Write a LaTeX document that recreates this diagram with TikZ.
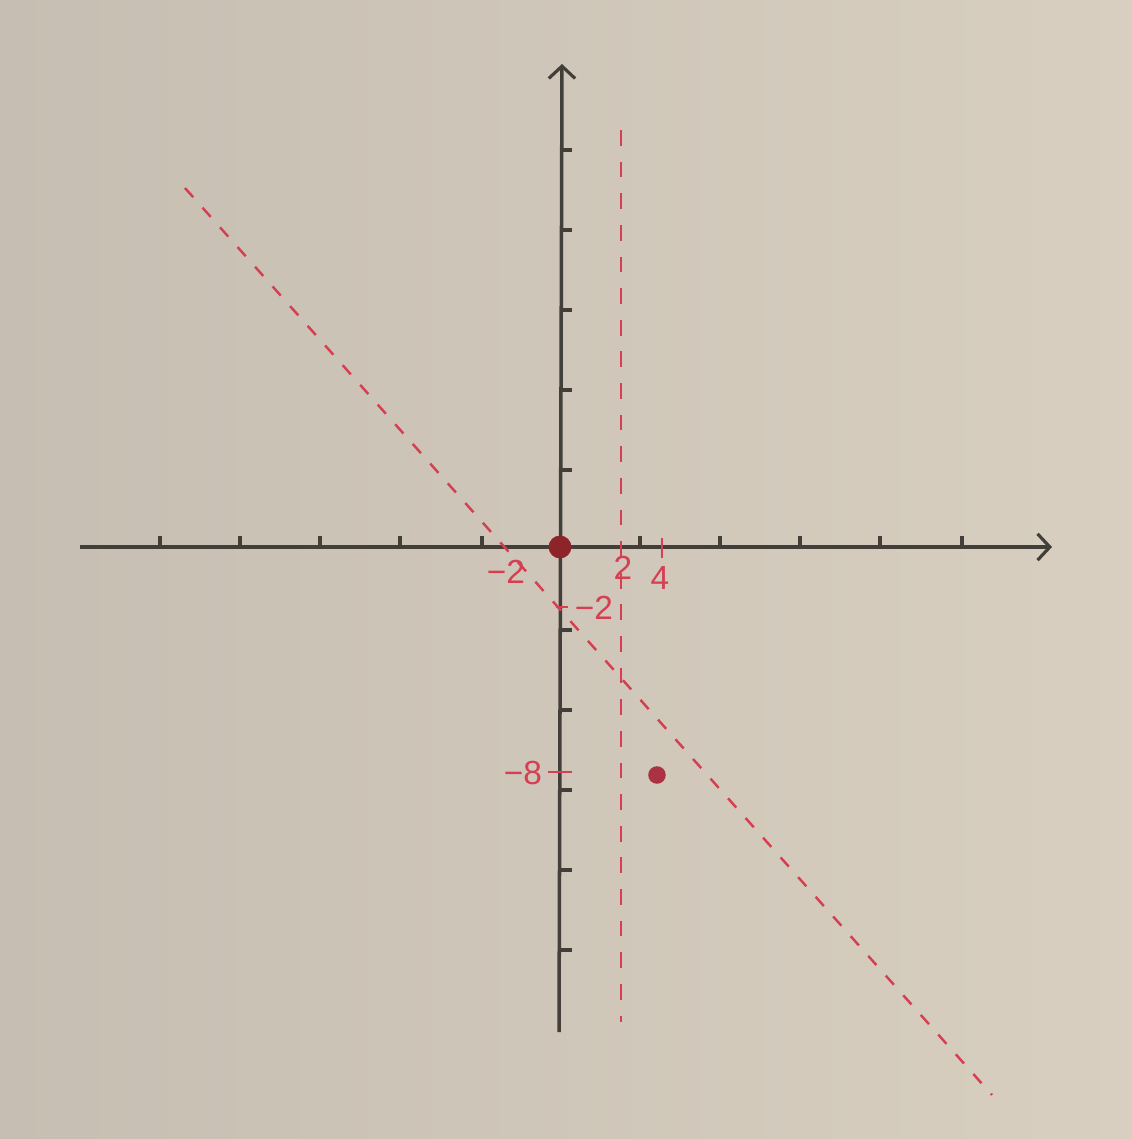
\documentclass[tikz,border=0pt]{standalone}
\usepackage{fontspec}
\setmainfont{Liberation Sans}
\usetikzlibrary{arrows.meta}
\definecolor{paper}{RGB}{216,207,192}
\definecolor{paperdark}{RGB}{198,190,178}
\definecolor{ink}{RGB}{66,62,58}
\definecolor{pen}{RGB}{214,62,82}
\definecolor{dotred}{RGB}{140,36,42}
\tikzset{
  axis/.style={ink, line width=2pt, -{Straight Barb[length=7pt,width=15pt,line width=1.8pt]}},
  tick/.style={ink, line width=1.8pt},
  redtick/.style={pen, line width=1.4pt},
  guide/.style={pen, line width=1.4pt, dash pattern=on 7pt off 8pt},
  lbl/.style={text=pen, font=\fontsize{19}{21}\selectfont, inner sep=1pt},
}
\begin{document}
\begin{tikzpicture}[x=0.02cm, y=-0.02cm]
  \shade[left color=paperdark, right color=paper] (0,0) rectangle (1132,1139);
  \useasboundingbox (0,0) rectangle (1132,1139);
  % axes
  \coordinate (xl) at (80,547);  \coordinate (xr) at (1052,547);
  \coordinate (yb) at (559,1032); \coordinate (yt) at (562,64);
  \draw[axis] (xl) -- (xr);
  \draw[axis] (yb) -- (yt);
  \foreach \x in {160,240,320,400,482,640,720,800,880,962}
    \draw[tick] (\x,547) -- (\x,536);
  \foreach \y in {150,230,310,390,470,630,710,790,870,950}
    \draw[tick] (561,\y) -- (572,\y);
  % lines
  \coordinate (va) at (621,130); \coordinate (vb) at (621,1022);
  \draw[guide, dash pattern=on 9pt off 9pt] (va) -- (vb);
  \coordinate (da) at (185,188); \coordinate (db) at (992,1095);
  \draw[guide] (da) -- (db);
  % marks
  \draw[redtick] (662,538) -- (662,558);
  \draw[redtick] (548,772) -- (572,772);
  \draw[redtick] (556,607) -- (568,607);
  \node[lbl] (xm2) at (506,572) {−2};
  \node[lbl] (x2) at (623,568) {2};
  \node[lbl] (x4) at (660,578) {4};
  \node[lbl] (ym2) at (594,608) {−2};
  \node[lbl] (ym8) at (523,773) {−8};
  \node[circle, fill=dotred, inner sep=0pt, minimum size=13pt] (o) at (560,547) {};
  \node[circle, fill=pen!80!black, inner sep=0pt, minimum size=10pt] (p) at (657,775) {};
\end{tikzpicture}
\end{document}
